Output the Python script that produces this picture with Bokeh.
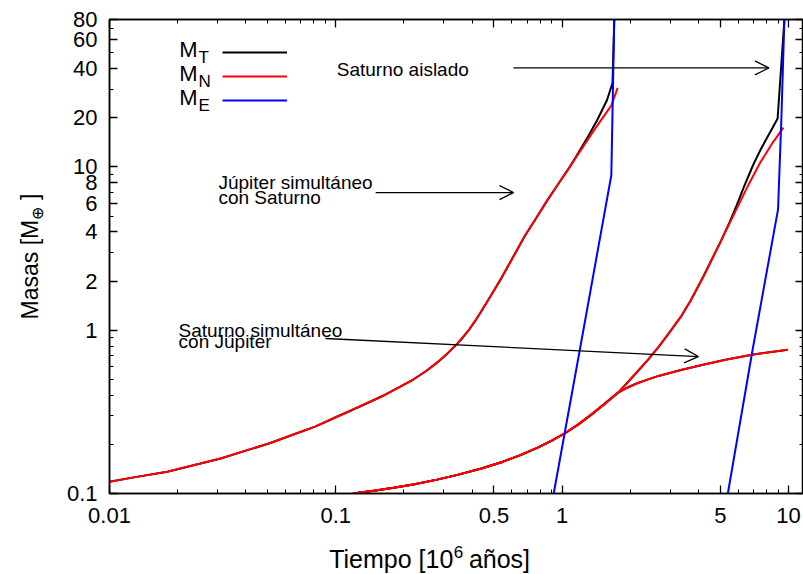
import math
from bokeh.plotting import figure
from bokeh.layouts import row, column
from bokeh.models import (Range1d, LogAxis, FixedTicker, CustomJSTickFormatter, Label,
                          Arrow, OpenHead, Legend, LegendItem)
from bokeh.core.properties import value
from bokeh.embed import file_html
from bokeh.resources import INLINE

FONT = "Liberation Sans"

# ---------------- data (time in 10^6 years, masses in Earth masses) ----------------
# Jupiter formed simultaneously with Saturn
jup_t_n = [0.01, 0.013, 0.018, 0.025, 0.031, 0.04, 0.051, 0.065, 0.081, 0.1, 0.127, 0.16, 0.19,
           0.22, 0.25, 0.28, 0.31, 0.345, 0.365, 0.39, 0.41, 0.434, 0.46, 0.49, 0.544, 0.61,
           0.683, 0.77, 0.857, 0.96, 1.076, 1.2, 1.38, 1.5, 1.65, 1.76]
jup_m_n = [0.118, 0.126, 0.136, 0.152, 0.164, 0.183, 0.203, 0.230, 0.257, 0.293, 0.34, 0.394,
           0.446, 0.499, 0.561, 0.633, 0.716, 0.83, 0.906, 1.017, 1.124, 1.27, 1.449, 1.675,
           2.13, 2.835, 3.76, 4.89, 6.2, 7.83, 9.9, 12.45, 16.7, 19.7, 23.8, 30.5]
jup_t_t = [0.01, 0.013, 0.018, 0.025, 0.031, 0.04, 0.051, 0.065, 0.081, 0.1, 0.127, 0.16, 0.19,
           0.22, 0.25, 0.28, 0.31, 0.345, 0.365, 0.39, 0.41, 0.434, 0.46, 0.49, 0.544, 0.61,
           0.683, 0.77, 0.857, 0.96, 1.076, 1.2, 1.3, 1.43, 1.58, 1.67, 1.70, 1.705]
jup_m_t = [0.118, 0.126, 0.136, 0.152, 0.164, 0.183, 0.203, 0.230, 0.257, 0.293, 0.34, 0.394,
           0.446, 0.499, 0.561, 0.633, 0.716, 0.83, 0.906, 1.017, 1.124, 1.27, 1.449, 1.675,
           2.13, 2.835, 3.76, 4.89, 6.2, 7.83, 9.9, 12.7, 15.3, 19.4, 25.7, 32.7, 80.0, 100.0]
jup_t_e = [0.918, 1.2, 1.65, 1.70, 1.705]
jup_m_e = [0.1, 0.77, 8.9, 80.0, 100.0]

# Saturn formed simultaneously with Jupiter
sat_sim_t = [0.119, 0.15, 0.18, 0.22, 0.28, 0.345, 0.44, 0.544, 0.65, 0.78, 0.9, 1.03, 1.18, 1.35,
             1.55, 1.77, 1.95, 2.12, 2.4, 2.67, 3.35, 4.2, 5.27, 7.0, 9.95]
sat_sim_m = [0.1, 0.1042, 0.1083, 0.1137, 0.1216, 0.130, 0.1422, 0.1561, 0.1713, 0.191, 0.2105,
             0.2339, 0.2652, 0.3053, 0.3565, 0.4152, 0.446, 0.47, 0.50, 0.525, 0.57, 0.615, 0.66,
             0.71, 0.76]

# Saturn isolated
sat_iso_t_n = [0.119, 0.15, 0.18, 0.22, 0.28, 0.345, 0.44, 0.544, 0.65, 0.78, 0.9, 1.03, 1.18, 1.35,
               1.55, 1.77, 2.12, 2.4, 2.67, 3.0, 3.35, 3.7, 4.2, 5.0, 6.0, 6.7, 7.5, 8.5, 9.5]
sat_iso_m_n = [0.1, 0.1042, 0.1083, 0.1137, 0.1216, 0.130, 0.1422, 0.1561, 0.1713, 0.191, 0.2105,
               0.2339, 0.2652, 0.3053, 0.3565, 0.4152, 0.545, 0.66, 0.79, 0.98, 1.21, 1.52, 2.12,
               3.45, 5.8, 7.9, 10.6, 14.0, 17.4]
sat_iso_t_t = [0.119, 0.15, 0.18, 0.22, 0.28, 0.345, 0.44, 0.544, 0.65, 0.78, 0.9, 1.03, 1.18, 1.35,
               1.55, 1.77, 2.12, 2.4, 2.67, 3.0, 3.35, 3.7, 4.2, 5.0, 5.5, 5.9, 6.4, 7.0, 7.5, 8.0,
               8.5, 8.96, 9.6, 9.65]
sat_iso_m_t = [0.1, 0.1042, 0.1083, 0.1137, 0.1216, 0.130, 0.1422, 0.1561, 0.1713, 0.191, 0.2105,
               0.2339, 0.2652, 0.3053, 0.3565, 0.4152, 0.545, 0.66, 0.79, 0.98, 1.21, 1.52, 2.12,
               3.45, 4.59, 5.79, 7.7, 10.35, 12.6, 14.9, 17.3, 19.8, 80.0, 100.0]
sat_iso_t_e = [5.4, 6.9, 9.0, 9.3, 9.6, 9.62]
sat_iso_m_e = [0.1, 0.72, 5.5, 19.0, 80.0, 100.0]

# ticks
x_ticks = [0.01, 0.1, 0.5, 1, 5, 10]
x_minor = [0.02, 0.03, 0.04, 0.05, 0.06, 0.07, 0.08, 0.09, 0.2, 0.3, 0.4, 0.6, 0.7, 0.8, 0.9,
           2, 3, 4, 6, 7, 8, 9]
y_ticks = [0.1, 1, 2, 4, 6, 8, 10, 20, 40, 60, 80]
y_minor = [0.2, 0.3, 0.4, 0.5, 0.6, 0.7, 0.8, 0.9, 3, 5, 7, 9, 30, 50, 70]

# annotations (data coordinates)
ann_texts = ["Saturno aislado", "Júpiter simultáneo", "con Saturno", "Saturno simultáneo", "con Júpiter"]
ann_x = [0.101, 0.0303, 0.0303, 0.0202, 0.0202]
ann_y = [39.5, 7.98, 6.46, 0.99, 0.848]
arrow_x0 = [0.61, 0.15, 0.090]
arrow_y0 = [40.4, 6.97, 0.89]
arrow_x1 = [8.2, 0.61, 4.0]
arrow_y1 = [40.4, 6.97, 0.69]

# ---------------- main figure ----------------
p = figure(width=755, height=535, x_axis_type="log", y_axis_type="log",
           x_range=Range1d(0.01, 11.66), y_range=Range1d(0.1, 80),
           output_backend="svg", toolbar_location=None,
           min_border_left=61, min_border_right=0, min_border_top=19, min_border_bottom=42)
p.grid.visible = False
p.outline_line_color = "black"
p.outline_line_width = 1.5
p.background_fill_color = "white"
p.border_fill_color = "white"

num_fmt = CustomJSTickFormatter(code="return String(tick);")
empty_fmt = CustomJSTickFormatter(code="return '';")


def style(ax, ticks, minor, fmt, standoff, size):
    ax.ticker = FixedTicker(ticks=ticks, minor_ticks=minor)
    ax.formatter = fmt
    ax.major_tick_in = 8
    ax.major_tick_out = 0
    ax.minor_tick_in = 4
    ax.minor_tick_out = 0
    ax.axis_line_width = 1.5
    ax.major_tick_line_width = 1.3
    ax.minor_tick_line_width = 1
    ax.axis_line_color = "black"
    ax.major_tick_line_color = "black"
    ax.minor_tick_line_color = "black"
    ax.major_label_text_font = FONT
    ax.major_label_text_font_size = size
    ax.major_label_text_color = "black"
    ax.major_label_standoff = standoff


style(p.xaxis[0], x_ticks, x_minor, num_fmt, 14, "22px")
style(p.yaxis[0], y_ticks, y_minor, num_fmt, 12, "22px")

top_ax = LogAxis()
style(top_ax, x_ticks, x_minor, empty_fmt, 0, "1px")
p.add_layout(top_ax, "above")
right_ax = LogAxis()
style(right_ax, y_ticks, y_minor, empty_fmt, 0, "1px")
p.add_layout(right_ax, "right")

LW = 2
# black (M_T) first, then red (M_N), then blue (M_E)
rb1 = p.line(jup_t_t, jup_m_t, line_color="black", line_width=LW)
p.line(sat_sim_t, sat_sim_m, line_color="black", line_width=LW)
p.line(sat_iso_t_t, sat_iso_m_t, line_color="black", line_width=LW)
rr1 = p.line(jup_t_n, jup_m_n, line_color="#ff0000", line_width=LW)
p.line(sat_sim_t, sat_sim_m, line_color="#ff0000", line_width=LW)
p.line(sat_iso_t_n, sat_iso_m_n, line_color="#ff0000", line_width=LW)
re1 = p.line(jup_t_e, jup_m_e, line_color="#0000ff", line_width=LW)
p.line(sat_iso_t_e, sat_iso_m_e, line_color="#0000ff", line_width=LW)

# arrows
for x0, y0, x1, y1 in zip(arrow_x0, arrow_y0, arrow_x1, arrow_y1):
    p.add_layout(Arrow(end=OpenHead(size=14, line_width=1.3, line_color="black"),
                       x_start=x0, y_start=y0, x_end=x1, y_end=y1,
                       line_width=1.3, line_color="black"))

for t, x, y in zip(ann_texts, ann_x, ann_y):
    p.add_layout(Label(x=x, y=y, text=t, text_font=FONT, text_font_size="19px",
                       text_baseline="alphabetic", text_align="left", text_color="black"))

# legend (line samples) with blank labels
legend = Legend(items=[LegendItem(label=" ", renderers=[rb1]),
                       LegendItem(label=" ", renderers=[rr1]),
                       LegendItem(label=" ", renderers=[re1])],
                location=(113, 381), glyph_width=65, glyph_height=24, spacing=0,
                padding=0, margin=0, label_standoff=0, label_width=0, label_height=24,
                label_text_font_size="1px", border_line_alpha=0, background_fill_alpha=0)
p.add_layout(legend)

# legend texts (screen units relative to the frame)
leg_subs = ["T", "N", "E"]
for i, s in enumerate(leg_subs):
    p.add_layout(Label(x=88, y=443.6 - 24 * i, x_units="screen", y_units="screen", text="M",
                       text_font=FONT, text_font_size="22px", text_align="right",
                       text_baseline="alphabetic", text_color="black"))
    p.add_layout(Label(x=89, y=435.9 - 24 * i, x_units="screen", y_units="screen", text=s,
                       text_font=FONT, text_font_size="17px", text_align="left",
                       text_baseline="alphabetic", text_color="black"))

# ---------------- strip for the y-axis title ----------------
left = figure(width=48, height=574, x_range=Range1d(0, 48), y_range=Range1d(0, 574),
              x_axis_type=None, y_axis_type=None, output_backend="svg", toolbar_location=None,
              title=None, min_border=0, min_border_left=0, min_border_right=0,
              min_border_top=0, min_border_bottom=0)
left.grid.visible = False
left.outline_line_color = None
left.text(x=[29], y=[354.7], text=["Masas [M"], angle=math.pi / 2, text_align="right",
          text_baseline="alphabetic", text_font=value(FONT), text_font_size="23px",
          text_color="black")
left.text(x=[36.5], y=[354.7], text=["⊕"], angle=math.pi / 2, text_align="left",
          text_baseline="alphabetic", text_font=value(FONT), text_font_size="16px",
          text_color="black")
left.text(x=[29], y=[374.5], text=["]"], angle=math.pi / 2, text_align="left",
          text_baseline="alphabetic", text_font=value(FONT), text_font_size="23px",
          text_color="black")

# ---------------- strip for the x-axis title ----------------
bottom = figure(width=755, height=39, x_range=Range1d(0, 755), y_range=Range1d(0, 39),
                x_axis_type=None, y_axis_type=None, output_backend="svg", toolbar_location=None,
                title=None, min_border=0, min_border_left=0, min_border_right=0,
                min_border_top=0, min_border_bottom=0)
bottom.grid.visible = False
bottom.outline_line_color = None
bottom.text(x=[374], y=[15.3], text=["Tiempo [10"], text_align="right", text_baseline="alphabetic",
            text_font=value(FONT), text_font_size="25px", text_color="black")
bottom.text(x=[374.5], y=[22.8], text=["6"], text_align="left", text_baseline="alphabetic",
            text_font=value(FONT), text_font_size="17px", text_color="black")
bottom.text(x=[391], y=[15.3], text=["años]"], text_align="left", text_baseline="alphabetic",
            text_font=value(FONT), text_font_size="25px", text_color="black")

layout = row(left, column(p, bottom))
open("out.html", "w").write(file_html(layout, INLINE))
